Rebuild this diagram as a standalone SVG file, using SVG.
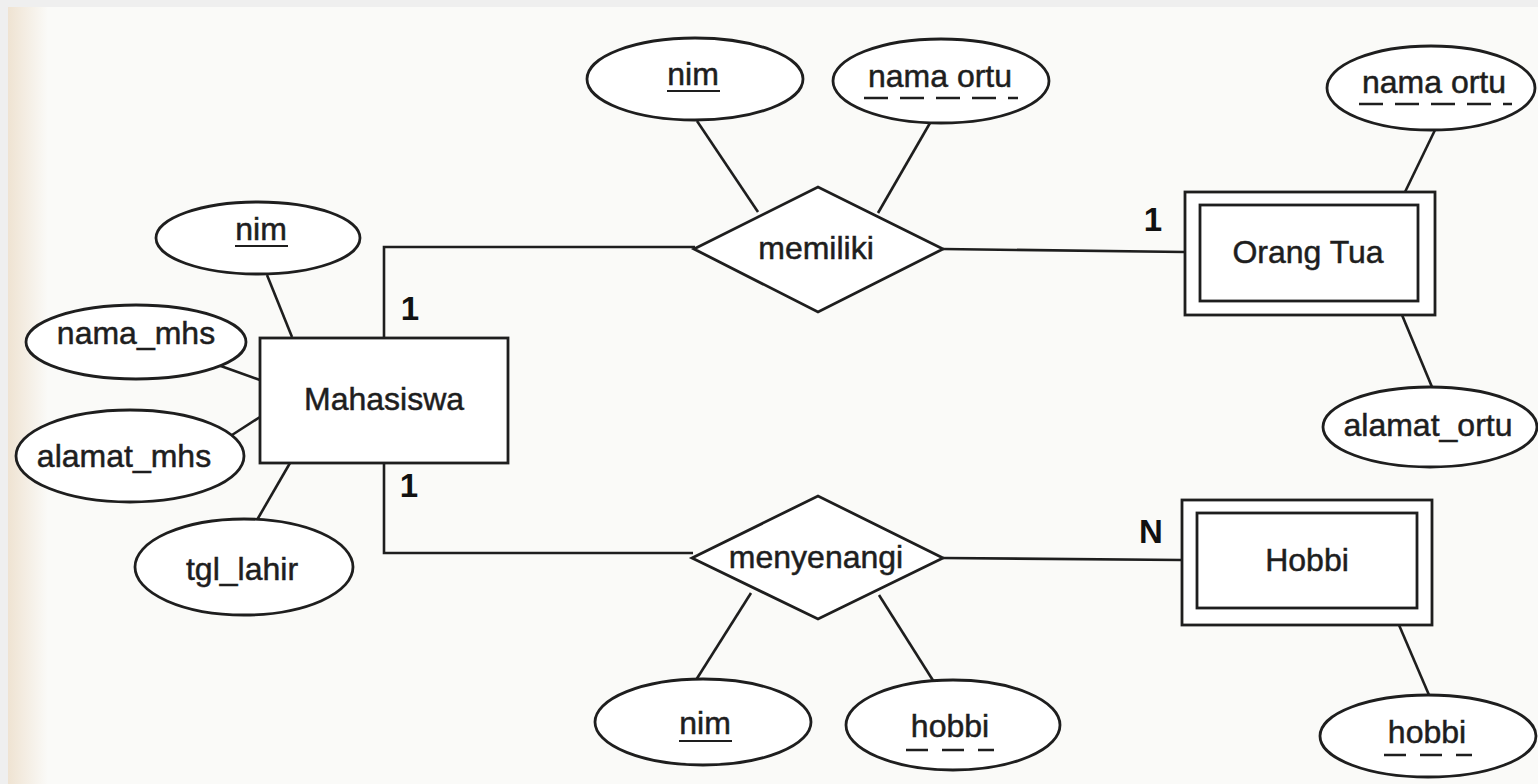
<svg xmlns="http://www.w3.org/2000/svg" width="1538" height="784" viewBox="0 0 1538 784">
<defs>
<linearGradient id="paper" x1="0" y1="0" x2="1" y2="0">
<stop offset="0" stop-color="#efe3d2"/>
<stop offset="1" stop-color="#fafaf8"/>
</linearGradient>
</defs>
<style>
.bg{fill:#fafaf8}
.shape{fill:#ffffff;stroke:#1e1e1e;stroke-width:2.8}
.line{fill:none;stroke:#1e1e1e;stroke-width:2.6}
.t{font-family:"Liberation Sans",Arial,sans-serif;font-size:32px;fill:#1e1e1e;stroke:#1e1e1e;stroke-width:0.5;text-anchor:middle}
.lbl{font-family:"Liberation Sans",Arial,sans-serif;font-size:33px;font-weight:bold;fill:#111;text-anchor:middle}
.ul{stroke:#1e1e1e;stroke-width:2;fill:none}
.dul{stroke:#1e1e1e;stroke-width:2.5;fill:none}
</style>
<rect class="bg" x="0" y="0" width="1538" height="784"/>
<rect x="8" y="7" width="40" height="777" fill="url(#paper)"/>
<rect x="0" y="0" width="1538" height="7" fill="#efefef"/>
<rect x="0" y="0" width="8" height="784" fill="#efefef"/>

<g id="connectors">
<polyline class="line" points="384,338 384,247 695,247"/>
<polyline class="line" points="384,463 384,553 693,553"/>
<line class="line" x1="943" y1="249" x2="1185" y2="252"/>
<line class="line" x1="943" y1="558" x2="1182" y2="560"/>
<line class="line" x1="267" y1="275" x2="292" y2="337"/>
<line class="line" x1="218" y1="365" x2="260" y2="380"/>
<line class="line" x1="232" y1="435" x2="260" y2="417"/>
<line class="line" x1="290" y1="463" x2="257" y2="520"/>
<line class="line" x1="697" y1="121" x2="758" y2="212"/>
<line class="line" x1="930" y1="123" x2="878" y2="213"/>
<line class="line" x1="1435" y1="130" x2="1405" y2="192"/>
<line class="line" x1="1402" y1="315" x2="1432" y2="387"/>
<line class="line" x1="751" y1="593" x2="696" y2="680"/>
<line class="line" x1="879" y1="595" x2="934" y2="682"/>
<line class="line" x1="1399" y1="625" x2="1429" y2="695"/>
</g>

<g id="mahasiswa">
<rect class="shape" x="260" y="338" width="248" height="125"/>
<text class="t" x="384" y="410">Mahasiswa</text>
</g>
<g id="attr-nim-mhs">
<ellipse class="shape" cx="258" cy="238" rx="102" ry="36"/>
<text class="t" x="261" y="240">nim</text>
<line class="ul" x1="235" y1="246" x2="288" y2="246"/>
</g>
<g id="attr-nama-mhs">
<ellipse class="shape" cx="136" cy="342" rx="110" ry="37"/>
<text class="t" x="136" y="344">nama_mhs</text>
</g>
<g id="attr-alamat-mhs">
<ellipse class="shape" cx="130" cy="456" rx="114" ry="46"/>
<text class="t" x="124" y="467">alamat_mhs</text>
</g>
<g id="attr-tgl-lahir">
<ellipse class="shape" cx="244" cy="567" rx="109" ry="48"/>
<text class="t" x="242" y="580">tgl_lahir</text>
</g>

<g id="memiliki">
<polygon class="shape" points="694,249 818,187 943,249 818,312"/>
<text class="t" x="816" y="259">memiliki</text>
</g>
<g id="attr-nim-memiliki">
<ellipse class="shape" cx="695" cy="79" rx="108" ry="41"/>
<text class="t" x="693" y="85">nim</text>
<line class="ul" x1="667" y1="91" x2="720" y2="91"/>
</g>
<g id="attr-namaortu-memiliki">
<ellipse class="shape" cx="941" cy="81" rx="108" ry="42"/>
<text class="t" x="940" y="87">nama ortu</text>
<line class="dul" x1="864" y1="98" x2="1018" y2="98" stroke-dasharray="24,12"/>
</g>

<g id="orang-tua">
<rect class="shape" x="1185" y="192" width="250" height="123"/>
<rect class="shape" x="1200" y="205" width="218" height="96"/>
<text class="t" x="1308" y="263">Orang Tua</text>
</g>
<g id="attr-namaortu">
<ellipse class="shape" cx="1431" cy="88" rx="104" ry="42"/>
<text class="t" x="1434" y="93">nama ortu</text>
<line class="dul" x1="1359" y1="104" x2="1512" y2="104" stroke-dasharray="24,12"/>
</g>
<g id="attr-alamat-ortu">
<ellipse class="shape" cx="1430" cy="427" rx="107" ry="40"/>
<text class="t" x="1428" y="436">alamat_ortu</text>
</g>

<g id="menyenangi">
<polygon class="shape" points="692,558 818,496 943,558 818,619"/>
<text class="t" x="816" y="568">menyenangi</text>
</g>
<g id="attr-nim-menyenangi">
<ellipse class="shape" cx="703" cy="722" rx="108" ry="43"/>
<text class="t" x="705" y="734">nim</text>
<line class="ul" x1="679" y1="741" x2="732" y2="741"/>
</g>
<g id="attr-hobbi-menyenangi">
<ellipse class="shape" cx="953" cy="725" rx="107" ry="45"/>
<text class="t" x="950" y="737">hobbi</text>
<line class="dul" x1="906" y1="750" x2="994" y2="750" stroke-dasharray="22,14"/>
</g>

<g id="hobbi">
<rect class="shape" x="1182" y="500" width="250" height="125"/>
<rect class="shape" x="1197" y="513" width="220" height="95"/>
<text class="t" x="1307" y="571">Hobbi</text>
</g>
<g id="attr-hobbi">
<ellipse class="shape" cx="1428" cy="736" rx="108" ry="41"/>
<text class="t" x="1427" y="743">hobbi</text>
<line class="dul" x1="1384" y1="755" x2="1472" y2="755" stroke-dasharray="22,14"/>
</g>

<g id="cardinalities">
<text class="lbl" x="410" y="320">1</text>
<text class="lbl" x="409" y="497">1</text>
<text class="lbl" x="1153" y="231">1</text>
<text class="lbl" x="1151" y="543">N</text>
</g>
</svg>
